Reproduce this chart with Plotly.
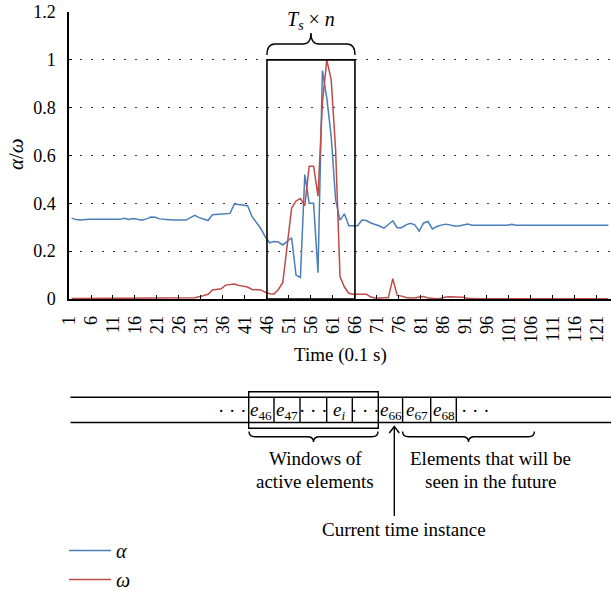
import plotly.graph_objects as go

# ---------------- data ----------------
time_index = list(range(1, 124))

alpha = [0.338, 0.332, 0.330, 0.333, 0.333, 0.333, 0.333, 0.333, 0.333, 0.333,
         0.333, 0.333, 0.338, 0.333, 0.337, 0.333, 0.329, 0.335, 0.343, 0.342,
         0.335, 0.333, 0.330, 0.330, 0.330, 0.330, 0.330, 0.340, 0.350, 0.340,
         0.333, 0.328, 0.352, 0.353, 0.355, 0.357, 0.358, 0.397, 0.395, 0.392,
         0.390, 0.345, 0.320, 0.295, 0.260, 0.235, 0.240, 0.238, 0.226, 0.240,
         0.256, 0.100, 0.090, 0.520, 0.400, 0.400, 0.110, 0.955, 0.840, 0.680,
         0.415, 0.330, 0.356, 0.306, 0.306, 0.306, 0.330, 0.328, 0.318, 0.312,
         0.305, 0.296, 0.310, 0.327, 0.298, 0.298, 0.310, 0.317, 0.310, 0.284,
         0.318, 0.324, 0.293, 0.303, 0.309, 0.313, 0.310, 0.305, 0.305, 0.308,
         0.313,
         0.308, 0.308, 0.308, 0.308, 0.308, 0.308, 0.308, 0.308, 0.308,
         0.312,
         0.308, 0.308, 0.308, 0.308, 0.308, 0.308, 0.308, 0.308, 0.308, 0.308,
         0.311, 0.308, 0.311,
         0.308, 0.308, 0.308, 0.308, 0.308, 0.308, 0.308, 0.308, 0.308]

omega = [0.002, 0.002, 0.002, 0.002, 0.002, 0.002, 0.002, 0.002, 0.002, 0.002,
         0.002, 0.002, 0.002, 0.002, 0.002, 0.002, 0.002, 0.002, 0.002, 0.002,
         0.004, 0.003, 0.002, 0.002, 0.002, 0.002, 0.002, 0.002,
         0.005, 0.009, 0.013, 0.020, 0.038, 0.040, 0.043, 0.058, 0.060, 0.063,
         0.057, 0.055, 0.050, 0.040, 0.038, 0.038, 0.028, 0.022, 0.021, 0.040,
         0.069, 0.220, 0.380, 0.410, 0.420, 0.390, 0.555, 0.555, 0.430, 0.820,
         1.000, 0.916, 0.625, 0.094, 0.050, 0.024, 0.020, 0.020, 0.020, 0.020,
         0.008, 0.004, 0.004, 0.004, 0.006, 0.085, 0.015, 0.012, 0.006, 0.004,
         0.004, 0.008, 0.010, 0.004, 0.002, 0.001, 0.003, 0.008, 0.009, 0.009,
         0.009, 0.007, 0.003,
         0.001, 0.001, 0.001, 0.001, 0.001, 0.001, 0.001, 0.001, 0.001, 0.001,
         0.001, 0.001, 0.001, 0.001, 0.001, 0.001, 0.001, 0.001, 0.001, 0.001,
         0.001, 0.001, 0.001, 0.001, 0.001, 0.001, 0.001, 0.001, 0.001, 0.001,
         0.001, 0.001]

x_tick_labels = list(range(1, 122, 5))
y_tick_values = [0, 0.2, 0.4, 0.6, 0.8, 1.0, 1.2]
window_start = 46
window_end = 66

series_names = ["<i>α</i>", "<i>ω</i>"]
series_colors = ["#4a7ebb", "#be4b48"]

row_texts = ["· · ·", "<i>e</i><sub>46</sub>", "<i>e</i><sub>47</sub>", "· · ·",
             "<i>e<sub>i</sub></i>", "· · ·", "<i>e</i><sub>66</sub>",
             "<i>e</i><sub>67</sub>", "<i>e</i><sub>68</sub>", "· · ·"]

# ---------------- geometry ----------------
W, H = 611, 591
L, R, T, B = 69, 0, 12, 292
PW, PH = W - L - R, H - T - B
X_MIN, X_MAX = 0.4, 123.6
LABEL_SHIFT = 0.6   # category labels sit slightly left of the data points
FONT = "Liberation Serif"


def xp(px):
    return (px - L) / PW


def yp(py):
    return (H - B - py) / PH


def data_to_px(xv):
    return L + (xv - X_MIN) * PW / (X_MAX - X_MIN)


def path(points_cmds):
    out = []
    for cmd, pts in points_cmds:
        s = cmd
        s += " ".join(f"{xp(a):.5f},{yp(b):.5f}" for a, b in pts)
        out.append(s)
    return " ".join(out)


def brace(x1, x2, ye, yt, r):
    ym = (ye + yt) / 2
    xm = (x1 + x2) / 2
    return path([
        ("M", [(x1, ye)]),
        ("Q", [(x1, ym), (x1 + r, ym)]),
        ("L", [(xm - r, ym)]),
        ("Q", [(xm, ym), (xm, yt)]),
        ("Q", [(xm, ym), (xm + r, ym)]),
        ("L", [(x2 - r, ym)]),
        ("Q", [(x2, ym), (x2, ye)]),
    ])


fig = go.Figure()
for name, ys, col in zip(series_names, [alpha, omega], series_colors):
    fig.add_trace(go.Scatter(x=time_index, y=ys, mode="lines", name=name,
                             line=dict(color=col, width=1.5)))

shapes = []
annotations = []
BLACK = dict(color="black", width=1.4)

# window box on the chart
shapes.append(dict(type="rect", xref="x", yref="y",
                   x0=window_start - LABEL_SHIFT, x1=window_end - LABEL_SHIFT,
                   y0=0, y1=1.0, line=dict(color="black", width=1.6)))

# top brace + label
bx1 = data_to_px(window_start - LABEL_SHIFT)
bx2 = data_to_px(window_end - LABEL_SHIFT)
shapes.append(dict(type="path", xref="paper", yref="paper",
                   path=brace(bx1, bx2, 55, 33, 8), line=BLACK))
annotations.append(dict(xref="paper", yref="paper", x=xp((bx1 + bx2) / 2), y=yp(20),
                        text="<i>T<sub>s</sub></i> × <i>n</i>", showarrow=False,
                        font=dict(family=FONT, size=20, color="black"),
                        xanchor="center", yanchor="middle"))

# axis titles
annotations.append(dict(xref="paper", yref="paper", x=xp(16), y=yp(154),
                        text="<i>α</i>/<i>ω</i>", textangle=-90, showarrow=False,
                        font=dict(family=FONT, size=21, color="black"),
                        xanchor="center", yanchor="middle"))
annotations.append(dict(xref="paper", yref="paper", x=xp(340), y=yp(355),
                        text="Time (0.1 s)", showarrow=False,
                        font=dict(family=FONT, size=19, color="black"),
                        xanchor="center", yanchor="middle"))

# ---------------- lower diagram ----------------
top_y, bot_y = 397.3, 422.5
for yy in (top_y, bot_y):
    shapes.append(dict(type="line", xref="paper", yref="paper",
                       x0=xp(70.5), x1=xp(611), y0=yp(yy), y1=yp(yy), line=BLACK))
# window box
shapes.append(dict(type="rect", xref="paper", yref="paper",
                   x0=xp(248.7), x1=xp(378.3), y0=yp(428.3), y1=yp(391.7), line=BLACK))
# cell dividers
for dx in [274, 300, 326.7, 352.3, 402.6, 430.7, 456.3]:
    shapes.append(dict(type="line", xref="paper", yref="paper",
                       x0=xp(dx), x1=xp(dx), y0=yp(top_y), y1=yp(bot_y), line=BLACK))
# cell texts
text_x = [231.7, 261.3, 287.3, 313.3, 339.3, 365.3, 390.5, 416.5, 443.5, 474.6]
for tx, tt in zip(text_x, row_texts):
    annotations.append(dict(xref="paper", yref="paper", x=xp(tx), y=yp(410.5),
                            text=tt, showarrow=False,
                            font=dict(family=FONT, size=19, color="black"),
                            xanchor="center", yanchor="middle"))
# braces
shapes.append(dict(type="path", xref="paper", yref="paper",
                   path=brace(249, 378, 431.5, 442, 6), line=BLACK))
shapes.append(dict(type="path", xref="paper", yref="paper",
                   path=brace(402.6, 534.4, 431.5, 442, 6), line=BLACK))
# arrow
shapes.append(dict(type="line", xref="paper", yref="paper",
                   x0=xp(394.3), x1=xp(394.3), y0=yp(516), y1=yp(426.5), line=BLACK))
shapes.append(dict(type="path", xref="paper", yref="paper",
                   path=path([("M", [(389.3, 433)]), ("L", [(394.3, 426.5)]),
                              ("L", [(399.3, 433)])]), line=BLACK))

for tx, ty, tt in [(315, 458, "Windows of"), (315, 482, "active elements"),
                   (490, 458, "Elements that will be"), (490, 482, "seen in the future"),
                   (403.5, 529, "Current time instance")]:
    annotations.append(dict(xref="paper", yref="paper", x=xp(tx), y=yp(ty),
                            text=tt, showarrow=False,
                            font=dict(family=FONT, size=19, color="black"),
                            xanchor="center", yanchor="middle"))

fig.update_layout(
    width=W, height=H,
    margin=dict(l=L, r=R, t=T, b=B, pad=0, autoexpand=False),
    paper_bgcolor="white", plot_bgcolor="white",
    font=dict(family=FONT, size=18, color="black"),
    shapes=shapes, annotations=annotations,
    showlegend=True,
    legend=dict(x=xp(64), y=yp(531), xanchor="left", yanchor="top",
                font=dict(family=FONT, size=20, color="black"),
                bgcolor="rgba(0,0,0,0)", itemwidth=42, borderwidth=0,
                tracegroupgap=0),
)

fig.update_xaxes(
    range=[X_MIN, X_MAX],
    automargin=False,
    tickmode="array",
    tickvals=[k - LABEL_SHIFT for k in x_tick_labels],
    ticktext=[str(k) for k in x_tick_labels],
    tickangle=-90,
    ticks="inside", ticklen=4, tickcolor="black", tickwidth=1,
    showline=True, linecolor="black", linewidth=1.5,
    showgrid=False, zeroline=False,
    tickfont=dict(family=FONT, size=18, color="black"),
    ticklabelstandoff=8,
)
fig.update_yaxes(
    range=[0, 1.2],
    automargin=False,
    tickmode="array", tickvals=y_tick_values,
    ticktext=[f"{v:g}" for v in y_tick_values],
    ticks="inside", ticklen=3, tickcolor="black",
    showline=True, linecolor="black", linewidth=1.5,
    showgrid=True, gridcolor="#333333", gridwidth=1.2, griddash="2px,9px",
    zeroline=False,
    tickfont=dict(family=FONT, size=18, color="black"),
    ticklabelstandoff=8,
)

fig.write_html("out.html")
